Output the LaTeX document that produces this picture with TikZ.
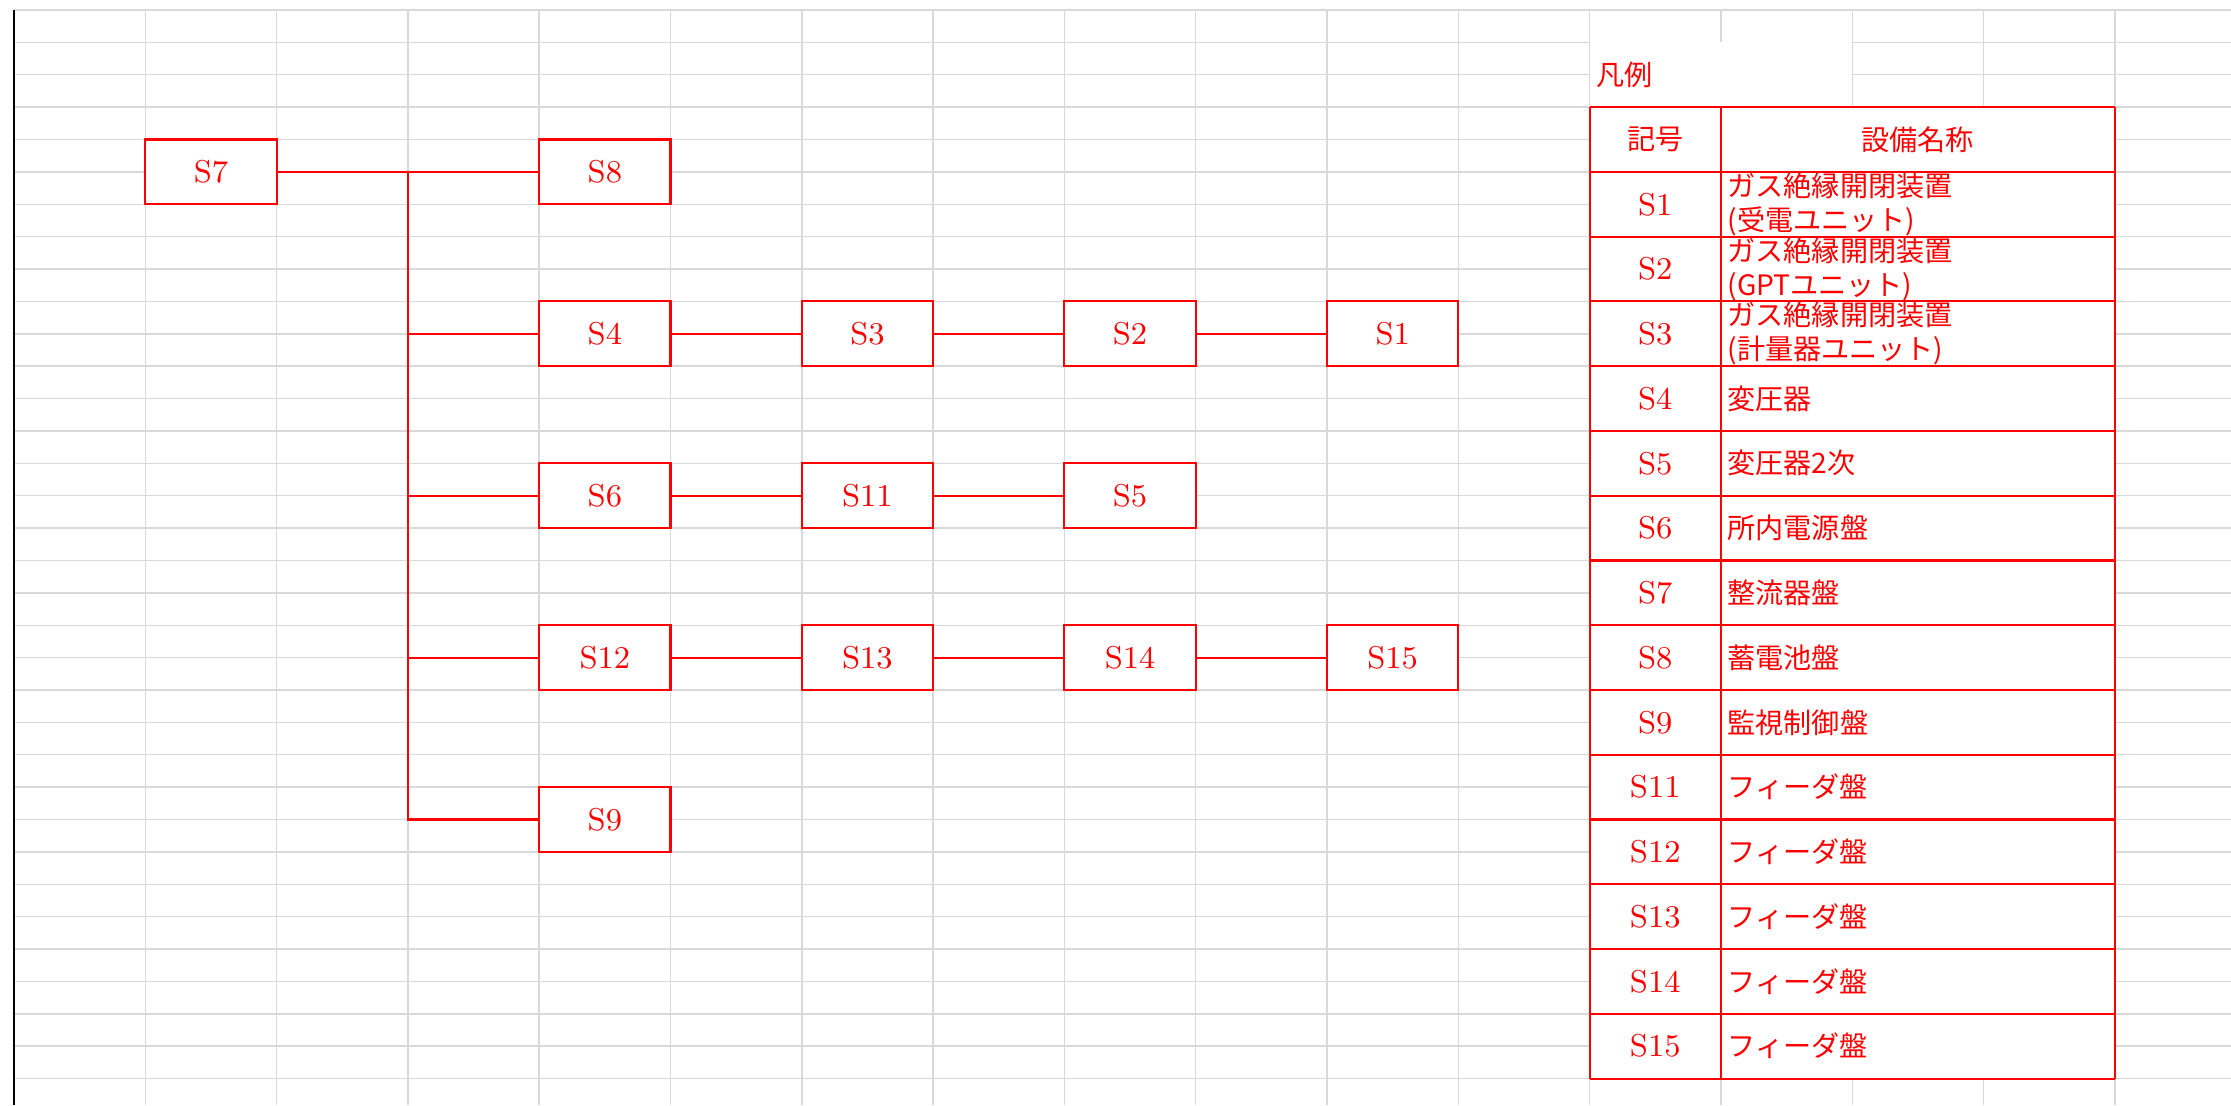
\documentclass[tikz,border=0pt]{standalone}
\usepackage{fontspec}
\newfontfamily\jpfont{Noto Sans CJK JP}
\usetikzlibrary{positioning,calc}
\definecolor{gridgrey}{RGB}{217,217,217}
\tikzset{
	gridline/.style={draw=gridgrey, line width=0.4pt},
	equip/.style={draw=red, fill=white, line width=0.6pt, outer sep=0pt, minimum width=1.313cm, minimum height=0.6476cm, inner sep=0pt, text=red, font=\fontsize{9}{10}\selectfont},
	wire/.style={draw=red, line width=0.6pt},
	tableline/.style={draw=red, line width=0.6pt},
	symtext/.style={text=red, inner sep=0pt, font=\fontsize{9}{10}\selectfont},
	nametext/.style={text=red, inner sep=0.06cm, align=left, font=\jpfont\fontsize{8}{9.7}\selectfont},
}
\newcommand{\conn}[2]{\draw[wire] (#1) -- (#2)}

\begin{document}
\begin{tikzpicture}[x=1.313cm, y=-0.3238cm, node distance=0.9714cm and 1.313cm] %
		\useasboundingbox (-0.1066,-0.309) rectangle (16.885,33.82) ;
		% sheet grid
		\foreach \r in {0,...,33}
			\draw[gridline] (0,\r) -- (16.885,\r) ;
		\foreach \c in {1,...,16}
			\draw[gridline] (\c,0) -- (\c,33.82) ;
		\draw[black, line width=0.6pt] (0,0) -- (0,33.82) ;
		%%%%% legend
		\fill[white] (12,1) rectangle (14,3) ;
		\node[nametext, anchor=west] (hanrei) at (12,2) {凡例} ;
		\fill[white] (12,3) rectangle (16,33) ;
		\foreach \r in {3,5,...,33}
			\draw[tableline] (12,\r) -- (16,\r) ;
		\foreach \c in {12,13,16}
			\draw[tableline] (\c,3) -- (\c,33) ;
		\node[nametext] (kigou) at (12.5,4) {記号} ;
		\node[nametext] (meisho) at (14.5,4) {設備名称} ;
		\foreach \k/\sym/\name in {0/S1/{ガス絶縁開閉装置\\(受電ユニット)},
				1/S2/{ガス絶縁開閉装置\\(GPTユニット)},
				2/S3/{ガス絶縁開閉装置\\(計量器ユニット)},
				3/S4/変圧器, 4/S5/変圧器2次, 5/S6/所内電源盤,
				6/S7/整流器盤, 7/S8/蓄電池盤, 8/S9/監視制御盤,
				9/S11/フィーダ盤, 10/S12/フィーダ盤, 11/S13/フィーダ盤,
				12/S14/フィーダ盤, 13/S15/フィーダ盤} {
			\pgfmathsetmacro\yc{6+2*\k}
			\node[symtext] (sym-\k) at (12.5,\yc) {\sym} ;
			\node[nametext, anchor=west] (name-\k) at (13,\yc) {\name} ;
		}
		%%%%% rectifier and battery
		\node[equip] (S7) at (1.5,5) {S7} ;
		\node[equip, right=of S7, xshift=1.313cm] (S8) {S8} ;
		%%%%% receiving line
		\node[equip, below=of S8] (S4) {S4} ;
		\node[equip, right=of S4] (S3) {S3} ;
		\node[equip, right=of S3] (S2) {S2} ;
		\node[equip, right=of S2] (S1) {S1} ;
		%%%%% station supply
		\node[equip, below=of S4] (S6) {S6} ;
		\node[equip, right=of S6] (S11) {S11} ;
		\node[equip, right=of S11] (S5) {S5} ;
		%%%%% feeders
		\node[equip, below=of S6] (S12) {S12} ;
		\node[equip, right=of S12] (S13) {S13} ;
		\node[equip, right=of S13] (S14) {S14} ;
		\node[equip, right=of S14] (S15) {S15} ;
		%%%%% monitoring
		\node[equip, below=of S12] (S9) {S9} ;
		% bus
		\coordinate (bus) at ($(S7.east)!0.5!(S8.west)$) ;
		\conn {S7} {S8} ;
		\draw[wire] (bus) |- (S9) ;
		\draw[wire] (bus |- S4) -- (S4) ;
		\draw[wire] (bus |- S6) -- (S6) ;
		\draw[wire] (bus |- S12) -- (S12) ;
		% rows
		\conn {S4} {S3} ;
		\conn {S3} {S2} ;
		\conn {S2} {S1} ;
		\conn {S6} {S11} ;
		\conn {S11} {S5} ;
		\conn {S12} {S13} ;
		\conn {S13} {S14} ;
		\conn {S14} {S15} ;
	\end{tikzpicture}
\end{document}
